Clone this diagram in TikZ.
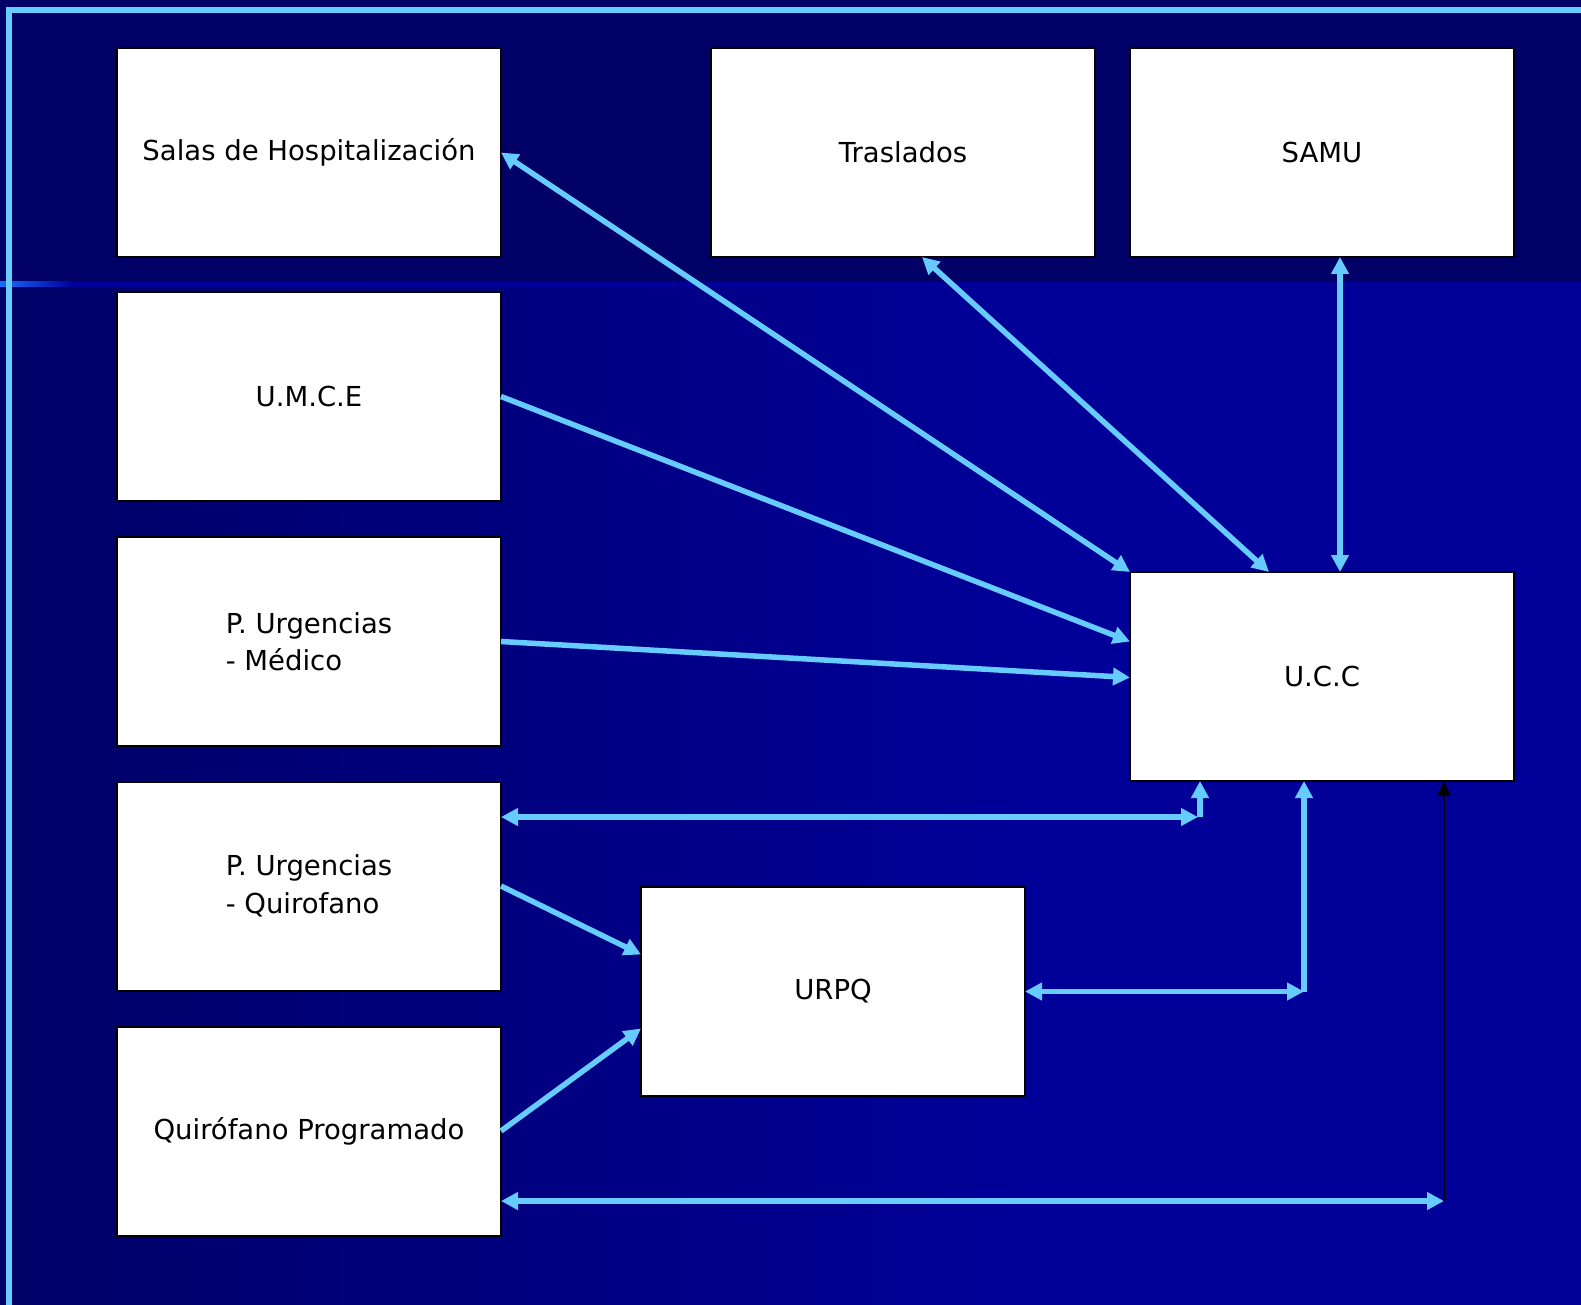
\documentclass[tikz,border=0pt]{standalone}
\usepackage{fontspec}
\setmainfont{DejaVu Sans}
\usetikzlibrary{arrows.meta}

\definecolor{bandtop}{HTML}{000066}
\definecolor{bgleft}{HTML}{000066}
\definecolor{bgright}{HTML}{000099}
\definecolor{rulebright}{HTML}{1A6BFF}
\definecolor{linkblue}{HTML}{66CCFF}

% lower area: dark on the left, lighter blue towards the right
\pgfdeclarehorizontalshading{lowerbg}{100bp}{color(0bp)=(bgleft); color(25bp)=(bgleft); color(58bp)=(bgright); color(100bp)=(bgright)}

\tikzset{
  unitbox/.style={draw=black, line width=2pt, fill=white, inner sep=0pt, outer sep=0pt,
    minimum width=384pt, minimum height=209pt, text=black,
    font=\fontsize{27.5}{37.5}\selectfont, align=center},
  twoline/.style={unitbox, align=left},
  link/.style={draw=linkblue, line width=5.5pt, -{Triangle[length=17pt,width=17pt]}},
  dlink/.style={draw=linkblue, line width=5.5pt, {Triangle[length=17pt,width=17pt]}-{Triangle[length=17pt,width=17pt]}},
  thinlink/.style={draw=black, line width=2pt, -{Triangle[length=15pt,width=13pt]}},
}

\begin{document}
\begin{tikzpicture}[x=1pt, y=-1pt]
  % background
  \useasboundingbox (0,0) rectangle (1581,1305);
  \fill[bandtop] (0,0) rectangle (1581,283);
  \fill[shading=lowerbg] (0,287) rectangle (1581,1305);
  \fill[left color=rulebright, right color=bgright] (0,282) rectangle (72,287);
  \fill[bgright] (72,282) rectangle (1581,287);
  % frame rules
  \fill[linkblue] (6,7) rectangle (1581,13);
  \fill[linkblue] (6,7) rectangle (12,1305);

  % units
  \node[unitbox] (salas) at (309,152.5) {Salas de Hospitalización};
  \node[unitbox] (trasl) at (903,152.5) {Traslados};
  \node[unitbox] (samu) at (1322,152.5) {SAMU};
  \node[unitbox] (umce) at (309,396.5) {U.M.C.E};
  \node[twoline] (pum) at (309,641.5) {P. Urgencias\\- Médico};
  \node[twoline] (puq) at (309,886) {P. Urgencias\\- Quirofano};
  \node[unitbox] (qp) at (309,1131) {Quirófano Programado};
  \node[unitbox] (ucc) at (1322,676.5) {U.C.C};
  \node[unitbox] (urpq) at (833,991.5) {URPQ};

  % corner points of the routed links
  \coordinate (c1) at (1200,817);
  \coordinate (c2) at (1304,991.5);
  \coordinate (c3) at (1444,1201);

  % links into U.C.C
  \draw[dlink] (salas.east) -- (ucc.north west);
  \draw[dlink] ([xshift=19pt]trasl.south) -- ([xshift=-53pt]ucc.north);
  \draw[dlink] ([xshift=18pt]samu.south) -- ([xshift=18pt]ucc.north);
  \draw[link] (umce.east) -- ([yshift=35pt]ucc.west);
  \draw[link] (pum.east) -- ([yshift=-1pt]ucc.west);
  \draw[dlink] (puq.east |- c1) -- ([xshift=-2pt]c1);
  \draw[link] (c1) -- (c1 |- ucc.south);
  \draw[dlink] (urpq.east) -- (c2);
  \draw[link] (c2) -- (c2 |- ucc.south);
  \draw[link] (puq.east) -- ([yshift=37pt]urpq.west);
  \draw[link] (qp.east) -- ([yshift=-37pt]urpq.west);
  \draw[dlink] (qp.east |- c3) -- (c3);
  \draw[thinlink] (c3) -- (c3 |- ucc.south);
\end{tikzpicture}
\end{document}
